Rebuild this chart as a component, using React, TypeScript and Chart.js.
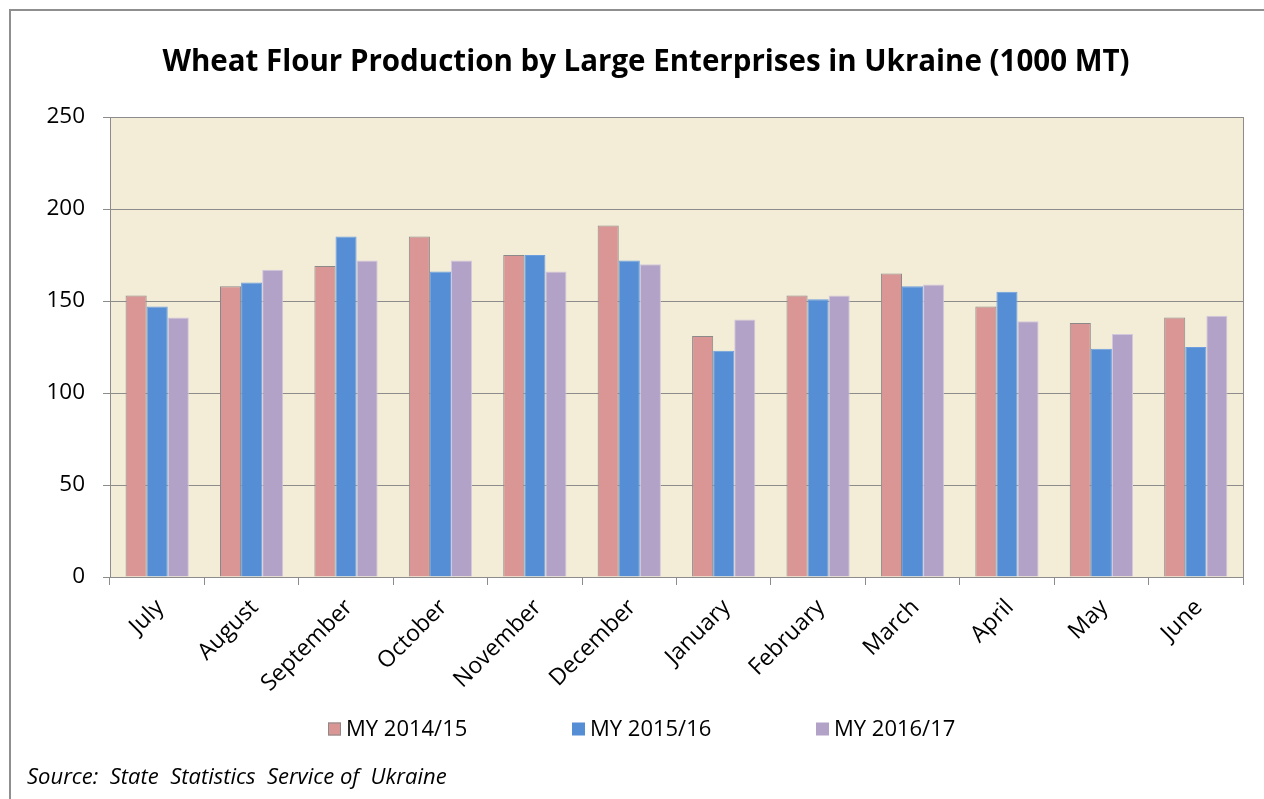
import { useEffect, useRef } from "react";
import { Chart, registerables } from "chart.js";

Chart.register(...registerables);

const categories = [
  "July", "August", "September", "October", "November", "December",
  "January", "February", "March", "April", "May", "June",
];
const seriesLabels = ["MY 2014/15", "MY 2015/16", "MY 2016/17"];
const values2014 = [153, 158, 169, 185, 175, 191, 131, 153, 165, 147, 138, 141];
const values2015 = [147, 160, 185, 166, 175, 172, 123, 151, 158, 155, 124, 125];
const values2016 = [141, 167, 172, 172, 166, 170, 140, 153, 159, 139, 132, 142];
const yTickValues = [0, 50, 100, 150, 200, 250];
const titleText = "Wheat Flour Production by Large Enterprises in Ukraine (1000 MT)";
const sourceText = "Source:  State  Statistics  Service of  Ukraine";

const FONT = "'Open Sans', 'DejaVu Sans', sans-serif";
const GRID = "#8c8c8c";

const plotFrame = {
  id: "plotFrame",
  beforeDraw(chart: any) {
    const { ctx, chartArea } = chart;
    ctx.save();
    ctx.fillStyle = "#F3EDD7";
    ctx.fillRect(chartArea.left, chartArea.top, chartArea.right - chartArea.left, chartArea.bottom - chartArea.top);
    ctx.restore();
  },
  afterDraw(chart: any) {
    const { ctx, chartArea } = chart;
    ctx.save();
    ctx.strokeStyle = GRID;
    ctx.lineWidth = 1;
    ctx.beginPath();
    ctx.moveTo(Math.round(chartArea.right) + 0.5, chartArea.top);
    ctx.lineTo(Math.round(chartArea.right) + 0.5, chartArea.bottom);
    ctx.stroke();
    ctx.restore();
  },
};

const textBlocks = {
  id: "textBlocks",
  afterDraw(chart: any) {
    const { ctx } = chart;
    ctx.save();
    // title
    ctx.font = `bold 29.5px ${FONT}`;
    ctx.fillStyle = "#000";
    ctx.textAlign = "center";
    ctx.textBaseline = "middle";
    ctx.fillText(titleText, 646, 63);

    // legend
    const startX = 328;
    const step = 244;
    const y = 729;
    const box = 13;
    ctx.font = `22px ${FONT}`;
    ctx.textAlign = "left";
    chart.data.datasets.forEach((ds: any, i: number) => {
      const x = startX + i * step;
      ctx.fillStyle = ds.backgroundColor;
      ctx.fillRect(x, y - box / 2, box, box);
      if (i === 0) {
        ctx.strokeStyle = "#8a8a8a";
        ctx.lineWidth = 1;
        ctx.strokeRect(x + 0.5, y - box / 2 + 0.5, box - 1, box - 1);
      }
      ctx.fillStyle = "#000";
      ctx.fillText(ds.label, x + box + 5, y + 1);
    });

    // source
    ctx.font = `italic 22px ${FONT}`;
    ctx.fillText(sourceText, 27, 778);
    ctx.restore();
  },
};

export default function App() {
  const ref = useRef<HTMLCanvasElement | null>(null);

  useEffect(() => {
    if (!ref.current) return;
    const common = { borderWidth: 1, categoryPercentage: 0.67, barPercentage: 1.0 };
    const chart = new Chart(ref.current, {
      type: "bar",
      data: {
        labels: categories,
        datasets: [
          { label: seriesLabels[0], data: values2014, backgroundColor: "#D99694", borderColor: "#8a8a8a", ...common },
          { label: seriesLabels[1], data: values2015, backgroundColor: "#558ED5", borderColor: "#6d9fe0", ...common },
          { label: seriesLabels[2], data: values2016, backgroundColor: "#B3A2C7", borderColor: "#d2c8de", ...common },
        ],
      },
      options: {
        responsive: false,
        animation: false,
        layout: { padding: { left: 0, right: 21, top: 117, bottom: 92 } },
        plugins: {
          legend: { display: false },
          tooltip: { enabled: false },
          title: { display: false },
        },
        scales: {
          x: {
            grid: {
              display: true,
              offset: true,
              drawOnChartArea: false,
              drawTicks: true,
              tickLength: 8,
              color: GRID,
            },
            border: { display: true, color: GRID, width: 1 },
            ticks: {
              color: "#000",
              font: { family: FONT, size: 23 },
              maxRotation: 45,
              minRotation: 45,
              padding: 9,
              labelOffset: 3,
            },
            afterFit(scale: any) {
              scale.height = 130;
            },
          },
          y: {
            min: 0,
            max: 250,
            afterBuildTicks(scale: any) {
              scale.ticks = yTickValues.map((v) => ({ value: v }));
            },
            grid: { color: GRID, tickLength: 7, drawTicks: true },
            border: { display: true, color: GRID, width: 1 },
            ticks: {
              color: "#000",
              font: { family: FONT, size: 22.5 },
              padding: 18,
            },
            afterFit(scale: any) {
              scale.width = 110;
            },
          },
        },
      },
      plugins: [plotFrame, textBlocks],
    });
    return () => chart.destroy();
  }, []);

  return (
    <div style={{ position: "absolute", left: 0, top: 0, width: 1264, height: 799, overflow: "hidden", background: "#fff" }}>
      <div
        style={{
          position: "absolute",
          left: 9,
          top: 9,
          width: 1400,
          height: 1000,
          border: "2px solid #8f8f8f",
          boxSizing: "border-box",
        }}
      />
      <canvas ref={ref} width={1264} height={799} style={{ position: "absolute", left: 0, top: 0 }} />
    </div>
  );
}
